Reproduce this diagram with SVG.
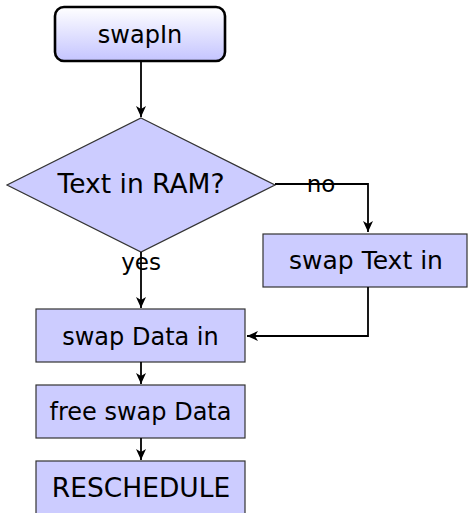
<svg xmlns="http://www.w3.org/2000/svg" width="468" height="513" viewBox="0 0 468 513">
  <style>
    .box { fill: #ccccff; stroke: #333333; stroke-width: 1.2; }
    .lbl { font-family: "DejaVu Sans", sans-serif; font-size: 24px; fill: #000000; text-anchor: middle; }
    .edge { fill: none; stroke: #000000; stroke-width: 1.8; marker-end: url(#arr); }
  </style>
  <defs>
    <linearGradient id="grad" x1="0" y1="0" x2="0" y2="1">
      <stop offset="0" stop-color="#ffffff"/>
      <stop offset="1" stop-color="#c4c4ff"/>
    </linearGradient>
    <marker id="arr" markerUnits="userSpaceOnUse" markerWidth="14" markerHeight="14" viewBox="-12 -7 14 14" refX="0" refY="0" orient="auto">
      <path d="M0,0 L-11,-5 L-8,0 L-11,5 Z" fill="#000000"/>
    </marker>
  </defs>
  <rect width="468" height="513" fill="#ffffff"/>
  <g id="textInRam">
    <polygon class="box" points="141,118 275,185 141,252 7,185"/>
    <text class="lbl" x="141" y="193" style="font-size:26.5px">Text in RAM?</text>
  </g>
  <g id="swapIn">
    <rect x="55" y="7" width="170" height="54" rx="9" ry="9" fill="url(#grad)" stroke="#000000" stroke-width="2.6"/>
    <text class="lbl" x="140" y="43">swapIn</text>
  </g>
  <g id="swapTextIn">
    <rect class="box" x="263" y="234" width="204" height="53"/>
    <text class="lbl" x="366" y="269" style="font-size:25px">swap Text in</text>
  </g>
  <g id="swapDataIn">
    <rect class="box" x="36" y="309" width="209" height="53"/>
    <text class="lbl" x="140.5" y="345">swap Data in</text>
  </g>
  <g id="freeSwapData">
    <rect class="box" x="36" y="385" width="209" height="53"/>
    <text class="lbl" x="140.5" y="420">free swap Data</text>
  </g>
  <g id="reschedule">
    <rect class="box" x="36" y="461" width="209" height="53"/>
    <text class="lbl" x="141" y="497" style="font-size:26.5px">RESCHEDULE</text>
  </g>
  <g id="labels">
    <text class="lbl" x="321" y="192" style="font-size:23px">no</text>
    <text class="lbl" x="141" y="270" style="font-size:23px">yes</text>
  </g>
  <g id="edges">
    <path class="edge" d="M141,61 L141,117"/>
    <path class="edge" d="M141,252 L141,308"/>
    <path class="edge" d="M275,184 L368,184 L368,232"/>
    <path class="edge" d="M368,287 L368,336 L247,336"/>
    <path class="edge" d="M141,362 L141,384"/>
    <path class="edge" d="M141,438 L141,460"/>
  </g>
</svg>
